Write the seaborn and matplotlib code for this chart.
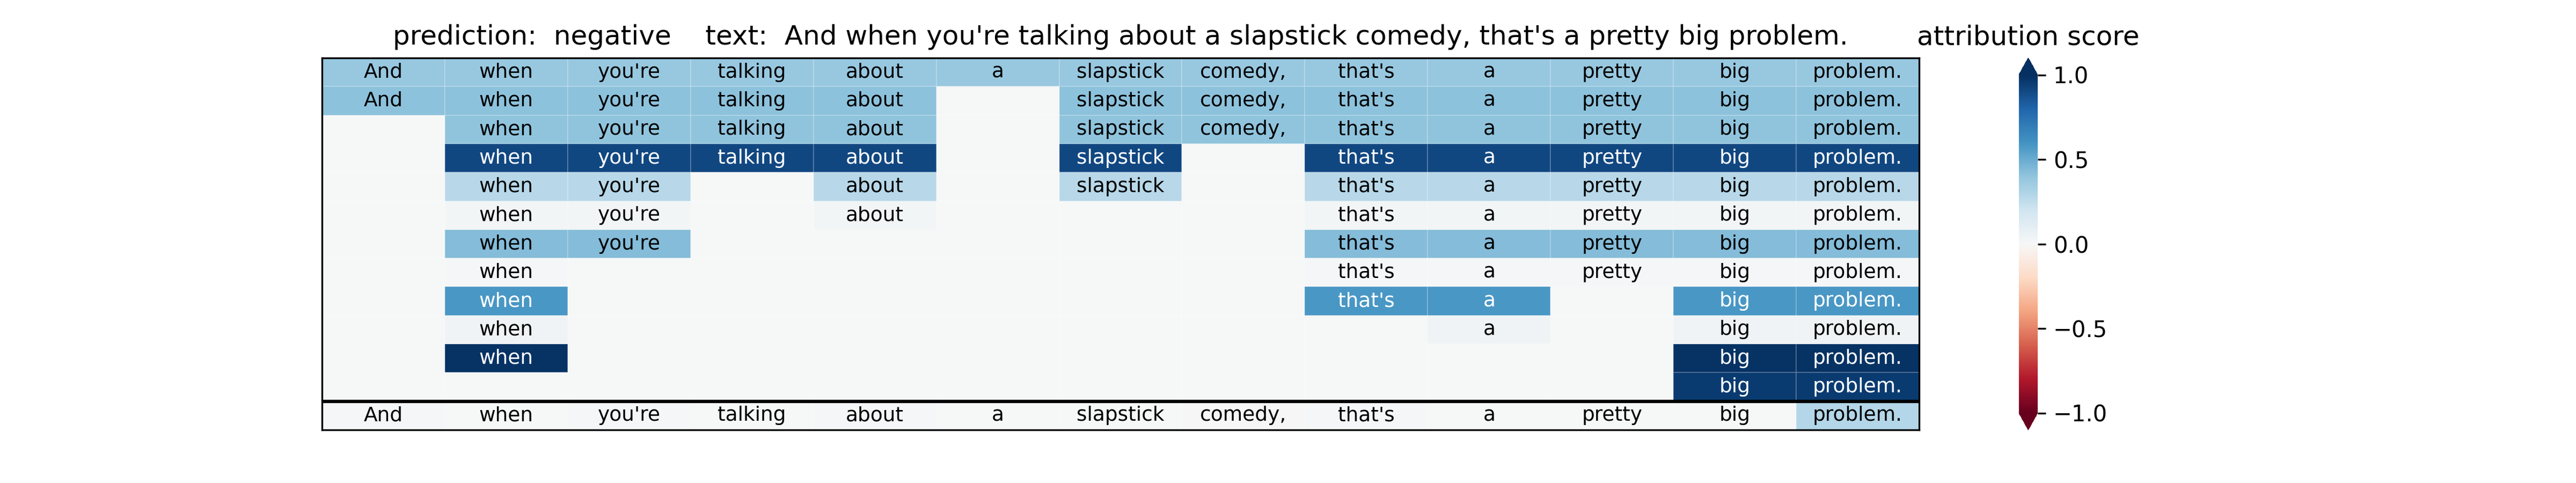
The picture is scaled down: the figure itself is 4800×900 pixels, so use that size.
import numpy as np
import pandas as pd
import seaborn as sb
import matplotlib.pyplot as plt

# 句子的词
tokens = ["And", "when", "you're", "talking", "about", "a", "slapstick",
          "comedy,", "that's", "a", "pretty", "big", "problem."]

# 每一行保留了哪些词 (1 = 保留)
row_masks = [
    "1111111111111",
    "1111101111111",
    "0111101111111",
    "0111101011111",
    "0110101011111",
    "0110100011111",
    "0110000011111",
    "0100000011111",
    "0100000011011",
    "0100000001011",
    "0100000000011",
    "0000000000011",
]

# 每一行的得分
row_scores = [0.38, 0.41, 0.40, 0.91, 0.28, 0.03, 0.43, 0.01, 0.58, 0.04, 0.99, 0.96]

# 最后一行: 每个词的归因分数
word_scores = [0.01, 0.005, 0.01, 0.005, 0.01, 0.0, 0.005, -0.005, 0.01, 0.0, 0.005, 0.0, 0.29]

prediction = "negative"

# 拼出矩阵和注释
vals = []
labels = []
for m, s in zip(row_masks, row_scores):
    vals.append([s if c == "1" else 0.0 for c in m])
    labels.append([t if c == "1" else "" for t, c in zip(tokens, m)])
vals.append(word_scores)
labels.append(tokens)

df = pd.DataFrame(vals)
annot = np.array(labels)

fig, ax = plt.subplots(figsize=(16, 3))
sb.heatmap(df, ax=ax, cmap="RdBu", vmin=-1, vmax=1, center=0,
           annot=annot, fmt="", annot_kws={"size": 9},
           linewidths=0.4, linecolor=(1, 1, 1, 0.2),
           xticklabels=False, yticklabels=False,
           cbar_kws={"extend": "both", "ticks": [-1, -0.5, 0, 0.5, 1]})

# 深色文字改成纯黑
for t in ax.texts:
    if t.get_color() != "w":
        t.set_color("black")

# 外框和分隔线
for s in ax.spines.values():
    s.set_visible(True)
    s.set_linewidth(0.8)
    s.set_color("black")
ax.axhline(len(row_masks), color="black", lw=1.5)

ax.set_title("prediction:  " + prediction + "    text:  " + " ".join(tokens), fontsize=12)
cbar = ax.collections[0].colorbar
cbar.ax.set_title("attribution score", fontsize=12)

plt.savefig("out.png", dpi=300)
